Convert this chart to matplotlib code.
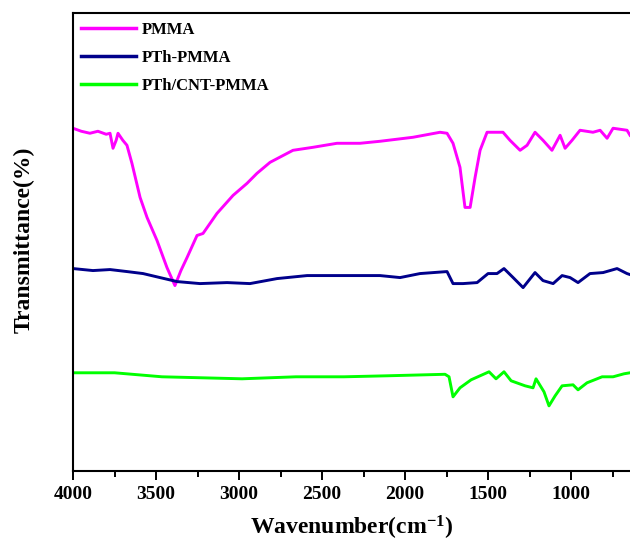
import matplotlib
matplotlib.use("Agg")
import matplotlib.pyplot as plt
from matplotlib.ticker import MultipleLocator

plt.rcParams['font.family'] = ['Liberation Serif', 'DejaVu Serif']
plt.rcParams['font.weight'] = 'bold'
plt.rcParams['mathtext.fontset'] = 'custom'
plt.rcParams['mathtext.rm'] = 'Liberation Serif:bold'
plt.rcParams['mathtext.bf'] = 'Liberation Serif:bold'
plt.rcParams['mathtext.default'] = 'bf'

# --- data (wavenumber in cm^-1, transmittance in arbitrary offset units) ---
pmma_wn = [4000, 3950, 3898, 3850, 3800, 3777, 3759, 3740, 3729, 3700, 3675, 3645, 3596, 3554,
           3494, 3434, 3386, 3350, 3313, 3253, 3217, 3133, 3036, 2952, 2892, 2813, 2675, 2554,
           2410, 2271, 2151, 1952, 1789, 1747, 1711, 1669, 1639, 1608, 1578, 1548, 1506, 1410,
           1368, 1307, 1265, 1217, 1169, 1115, 1066, 1036, 994, 946, 868, 825, 783, 747, 663, 645]
pmma_t = [342, 339, 337, 339, 336, 337, 322, 330, 337, 330, 325, 307, 273, 253,
          230, 203, 185, 200, 213, 235, 237, 257, 275, 287, 297, 308, 320, 323,
          327, 327, 329, 333, 338, 337, 327, 303, 263, 263, 293, 320, 338, 338,
          330, 320, 325, 338, 330, 320, 335, 322, 330, 340, 338, 340, 332, 342, 340, 335]

pth_wn = [4000, 3880, 3777, 3675, 3578, 3476, 3373, 3235, 3072, 2934, 2771, 2590, 2271, 2151,
          2030, 1910, 1747, 1711, 1651, 1566, 1500, 1446, 1404, 1349, 1289, 1217, 1169, 1108,
          1054, 1006, 958, 886, 807, 723, 663, 645]
pth_t = [202, 200, 201, 199, 197, 193, 189, 187, 188, 187, 192, 195, 195, 195,
         193, 197, 199, 187, 187, 188, 197, 197, 202, 193, 183, 198, 190, 187,
         195, 193, 188, 197, 198, 202, 197, 196]

cnt_wn = [4000, 3750, 3464, 2982, 2657, 2368, 2108, 1759, 1735, 1711, 1669, 1602, 1494, 1452,
          1404, 1361, 1277, 1229, 1211, 1163, 1133, 1096, 1054, 988, 958, 904, 813, 747, 681, 645]
cnt_t = [98, 98, 94, 92, 94, 94, 95, 96.5, 94, 74, 83, 91, 99, 92,
         99, 90, 85, 83, 92, 79, 65, 75, 85, 86, 81, 88, 94, 94, 97, 98]

labels = ['PMMA', 'PTh-PMMA', 'PTh/CNT-PMMA']
colors = ['#FF00FF', '#00008B', '#00FF00']
xticks = [4000, 3500, 3000, 2500, 2000, 1500, 1000]

fig = plt.figure(figsize=(6.3, 5.45), dpi=100)
ax = fig.add_axes([73/630, 74/545, 557/630, 458/545])

for wn, t, lab, c in zip([pmma_wn, pth_wn, cnt_wn], [pmma_t, pth_t, cnt_t], labels, colors):
    ax.plot(wn, t, color=c, lw=2.1, label=lab)

ax.set_xlim(4000, 645)
ax.set_ylim(0, 457)
ax.set_xticks(xticks)
ax.set_xticklabels([str(v) for v in xticks])
ax.xaxis.set_minor_locator(MultipleLocator(250))
ax.set_yticks([])
ax.tick_params(axis='x', which='major', direction='out', length=6.5, width=1.4,
               labelsize=14, pad=4)
ax.tick_params(axis='x', which='minor', direction='out', length=4.3, width=1.4)
for lbl in ax.get_xticklabels():
    lbl.set_fontweight('bold')

for s in ['left', 'bottom', 'top']:
    ax.spines[s].set_linewidth(1.5)
ax.spines['right'].set_visible(False)

ax.set_xlabel(r'Wavenumber(cm$^{-1}$)', fontsize=17, fontweight='bold', labelpad=8)
ax.set_ylabel('Transmittance(%)', fontsize=17, fontweight='bold')
ax.yaxis.set_label_coords(-0.068, 0.505)

leg = ax.legend(loc='upper left', bbox_to_anchor=(8/557, 1 - 9/458), frameon=False,
                prop={'family': 'Liberation Serif', 'weight': 'bold', 'size': 12},
                handlelength=3.3, handletextpad=0.35, labelspacing=0.72,
                borderpad=0, borderaxespad=0)
for line in leg.get_lines():
    line.set_linewidth(2.5)

fig.savefig('out.png', dpi=100)
